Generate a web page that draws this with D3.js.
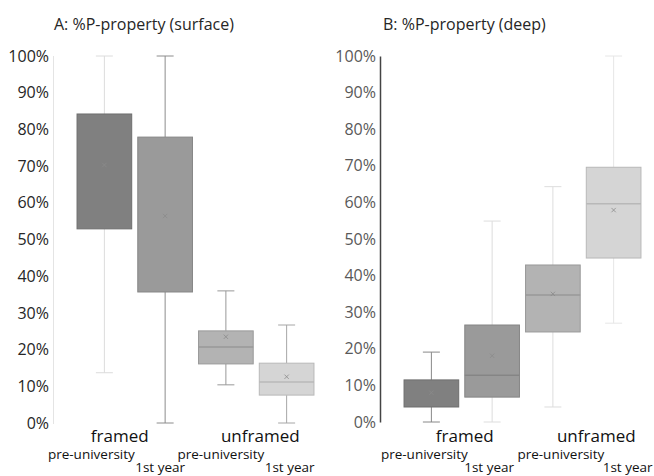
<!DOCTYPE html>
<html>
<head>
<meta charset="utf-8">
<script src="https://cdn.jsdelivr.net/npm/d3@7"></script>
<style>
  body { margin: 0; background: #fff; }
  text { font-family: "Open Sans", "Noto Sans", sans-serif; }
</style>
</head>
<body>
<div id="container"></div>
<script>
// box order: framed pre-uni, framed 1st year, unframed pre-uni, unframed 1st year
var groups = ["framed", "unframed"],
    levels = ["pre-university", "1st year"],
    boxIds = ["fp", "f1", "up", "u1"],
    yTicks = [0, 0.1, 0.2, 0.3, 0.4, 0.5, 0.6, 0.7, 0.8, 0.9, 1.0]

// panel A: surface
var surfMin = [0.137, 0.0, 0.104, 0.0],
    surfQ1 = [0.529, 0.357, 0.161, 0.076],
    surfMed = [null, null, 0.207, 0.112],
    surfQ3 = [0.842, 0.779, 0.251, 0.163],
    surfMax = [1.0, 1.0, 0.36, 0.267],
    surfMean = [0.703, 0.564, 0.235, 0.126]

// panel B: deep
var deepMin = [0.0, 0.0, 0.041, 0.27],
    deepQ1 = [0.041, 0.068, 0.246, 0.448],
    deepMed = [null, 0.128, 0.347, 0.596],
    deepQ3 = [0.115, 0.265, 0.429, 0.696],
    deepMax = [0.191, 0.549, 0.643, 1.0],
    deepMean = [0.08, 0.181, 0.35, 0.579]

var fills = ["#808080", "#9a9a9a", "#b3b3b3", "#d5d5d5"],
    medianCol = ["#6e6e6e", "#858585", "#999999", "#b8b8b8"]

var svg = d3.select("#container").append("svg")
    .attr("width", 654)
    .attr("height", 476)

function panel(opt) {
  var x = d3.scaleBand()
      .domain(boxIds)
      .range(opt.xr)
      .paddingInner(0.1)
      .paddingOuter(0.05)

  var y = d3.scaleLinear()
      .domain([0, 1])
      .range(opt.yr)

  var g = svg.append("g")

  g.append("text")
    .attr("x", opt.titleX)
    .attr("y", 30)
    .attr("font-size", "16px")
    .attr("fill", "#262626")
    .text(opt.title)

  // y axis
  var axis = d3.axisLeft(y)
      .tickValues(yTicks)
      .tickFormat(d3.format(".0%"))
      .tickSize(0)
      .tickPadding(4)

  var ax = g.append("g")
      .attr("transform", "translate(" + opt.axisX + ",0)")
      .call(axis)
  ax.select(".domain")
    .attr("stroke", opt.axisCol)
    .attr("stroke-width", opt.axisW)
    .attr("stroke-dasharray", opt.axisDash)
  ax.selectAll(".tick text")
    .attr("font-size", "16px")
    .attr("fill", opt.labelCol)
    .attr("font-family", "'Open Sans', sans-serif")

  var data = boxIds.map(function(id, i) {
    return { id: id, min: opt.min[i], q1: opt.q1[i], med: opt.med[i], q3: opt.q3[i], max: opt.max[i], mean: opt.mean[i], i: i }
  })

  var boxes = g.selectAll(".box")
      .data(data)
      .enter().append("g")
      .attr("class", "box")

  var bw = x.bandwidth(), cap = 17
  function cx(d) { return x(d.id) + bw / 2 }

  // whiskers
  boxes.append("line")
    .attr("x1", cx).attr("x2", cx)
    .attr("y1", function(d) { return y(d.max) })
    .attr("y2", function(d) { return y(d.q3) })
    .attr("stroke", function(d) { return opt.whisk[d.i] })
  boxes.append("line")
    .attr("x1", cx).attr("x2", cx)
    .attr("y1", function(d) { return y(d.q1) })
    .attr("y2", function(d) { return y(d.min) })
    .attr("stroke", function(d) { return opt.whisk[d.i] })
  boxes.selectAll(".cap")
    .data(function(d) { return [d, d].map(function(e, k) { return { d: e, v: k ? e.max : e.min } }) })
    .enter().append("line")
    .attr("class", "cap")
    .attr("x1", function(e) { return cx(e.d) - cap / 2 })
    .attr("x2", function(e) { return cx(e.d) + cap / 2 })
    .attr("y1", function(e) { return y(e.v) })
    .attr("y2", function(e) { return y(e.v) })
    .attr("stroke", function(e) { return opt.whisk[e.d.i] })

  boxes.append("rect")
    .attr("x", function(d) { return x(d.id) })
    .attr("width", bw)
    .attr("y", function(d) { return y(d.q3) })
    .attr("height", function(d) { return y(d.q1) - y(d.q3) })
    .attr("fill", function(d) { return fills[d.i] })
    .attr("stroke", function(d) { return medianCol[d.i] })
    .attr("stroke-width", 1)

  boxes.filter(function(d) { return d.med != null }).append("line")
    .attr("x1", function(d) { return x(d.id) })
    .attr("x2", function(d) { return x(d.id) + bw })
    .attr("y1", function(d) { return y(d.med) })
    .attr("y2", function(d) { return y(d.med) })
    .attr("stroke", function(d) { return medianCol[d.i] })
    .attr("stroke-width", 1.5)

  boxes.append("path")
    .attr("d", d3.symbol().type(d3.symbolX).size(14))
    .attr("transform", function(d) { return "translate(" + cx(d) + "," + y(d.mean) + ")" })
    .attr("stroke", "#8a8a8a")
    .attr("stroke-width", 0.8)
    .attr("fill", "none")

  // category labels
  groups.forEach(function(grp, gi) {
    var a = x(boxIds[gi * 2]) + bw / 2, b = x(boxIds[gi * 2 + 1]) + bw / 2
    g.append("text")
      .attr("x", (a + b) / 2 + opt.grpShift[gi])
      .attr("y", 442)
      .attr("text-anchor", "middle")
      .attr("font-size", "17px")
      .attr("fill", "#111")
      .text(grp)
    levels.forEach(function(lv, li) {
      var c = li ? b : a
      g.append("text")
        .attr("x", c + opt.lvlShift[gi * 2 + li])
        .attr("y", li ? 472 : 459)
        .attr("text-anchor", "middle")
        .attr("font-size", "13.5px")
        .attr("fill", "#111")
        .text(lv)
    })
  })
}

panel({
  title: "A: %P-property (surface)", titleX: 54,
  xr: [74, 317], yr: [423, 56], axisX: 53,
  axisCol: "#c8c8c8", axisW: 1, axisDash: "1,1", labelCol: "#262626",
  min: surfMin, q1: surfQ1, med: surfMed, q3: surfQ3, max: surfMax, mean: surfMean,
  whisk: ["#dcdcdc", "#8c8c8c", "#999999", "#a6a6a6"],
  grpShift: [-15, 4], lvlShift: [-13, -5, -5, 3]
})

panel({
  title: "B: %P-property (deep)", titleX: 383,
  xr: [401, 644], yr: [422, 56], axisX: 380,
  axisCol: "#444", axisW: 1.5, axisDash: null, labelCol: "#595959",
  min: deepMin, q1: deepQ1, med: deepMed, q3: deepQ3, max: deepMax, mean: deepMean,
  whisk: ["#888888", "#dddddd", "#dddddd", "#e6e6e6"],
  grpShift: [3, 13], lvlShift: [-7, -3, 8, 14]
})
</script>
</body>
</html>
